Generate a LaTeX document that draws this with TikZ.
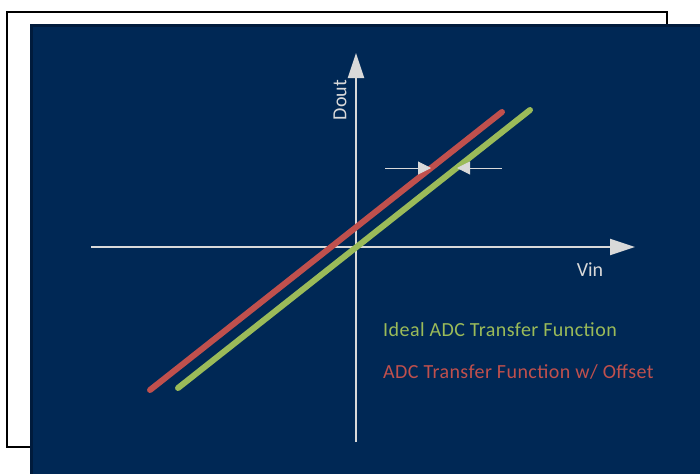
\documentclass[tikz,border=0pt]{standalone}
\usepackage{fontspec}
\setmainfont{Carlito}
\newfontfamily\legendfont[LetterSpace=2.2]{Carlito}
\usetikzlibrary{arrows.meta}
\definecolor{navy}{RGB}{0,40,85}
\definecolor{navyedge}{RGB}{0,27,60}
\definecolor{axisgray}{RGB}{217,217,217}
\definecolor{idealgreen}{RGB}{155,187,89}
\definecolor{offsetred}{RGB}{192,80,77}
\begin{document}
\begin{tikzpicture}[x=1pt,y=-1pt,
  axisline/.style={draw=axisgray, line width=2pt,
    -{Triangle[length=25pt,width=16pt]}},
  offsetmark/.style={draw=axisgray, line width=1pt,
    -{Triangle[length=13pt,width=13pt]}},
  transfer/.style={line width=6pt, line cap=round},
  label/.style={font=\fontsize{20}{24}\selectfont, inner sep=0pt},
  legend/.style={font=\legendfont\fontsize{20}{24}\selectfont, inner sep=0pt, anchor=west},
]
\useasboundingbox (0,0) rectangle (700,474);
% back sheet
\draw[black, line width=1.2pt, fill=white] (7,12) rectangle (667,447);
% navy plot panel with darker edge
\fill[navyedge] (30,24) rectangle (700,474);
\fill[navy] (33,27) rectangle (700,474);

% axes
\coordinate (xstart) at (91,247);
\coordinate (xend) at (635,247);
\coordinate (ystart) at (356,442);
\coordinate (yend) at (356,53);
\draw[axisline] (xstart) -- (xend);
\draw[axisline] (ystart) -- (yend);
\node[label, text=axisgray] (vin) at (590,270) {Vin};
\node[label, text=axisgray, rotate=90] (dout) at (340,100) {Dout};

% transfer functions
\coordinate (g0) at (178,388);
\coordinate (g1) at (530,110);
\coordinate (r0) at (150,390);
\coordinate (r1) at (502,112);
\draw[transfer, idealgreen] (g0) -- (g1);
\draw[transfer, offsetred] (r0) -- (r1);

% offset markers
\coordinate (la) at (385,168);
\coordinate (lb) at (431,168);
\coordinate (ra) at (502,168);
\coordinate (rb) at (457,168);
\draw[offsetmark] (la) -- (lb);
\draw[offsetmark] (ra) -- (rb);

% legend
\node[legend, text=idealgreen] (ideal) at (383,330) {Ideal ADC Transfer Function};
\node[legend, text=offsetred] (offset) at (383,372) {ADC Transfer Function w/ Offset};
\end{tikzpicture}
\end{document}
